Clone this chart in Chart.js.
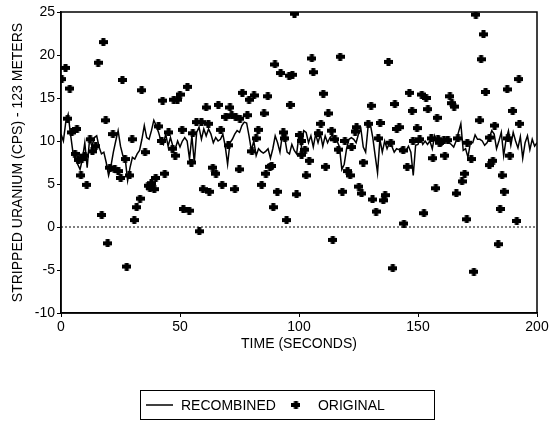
<!DOCTYPE html>
<html>
<head>
<meta charset="utf-8">
<script src="https://cdn.jsdelivr.net/npm/chart.js@4/dist/chart.umd.min.js"></script>
<style>
html,body{margin:0;padding:0;background:#fff;}
canvas{display:block;}
</style>
</head>
<body>
<canvas id="c" width="551" height="421"></canvas>
<script>
// RECOMBINED series: one value per second, t = 0 .. 200
const recombined = [
10.8,10.0,12.2,13.1,10.8,8.7,7.9,7.3,6.7,7.9,
9.8,6.9,10.2,9.4,10.4,10.6,9.3,8.5,8.7,7.5,
6.0,7.1,8.7,10.0,11.2,9.4,8.3,7.9,5.4,6.9,
8.1,7.9,8.5,8.9,10.2,11.8,10.4,10.2,11.2,12.4,
11.8,11.0,10.0,9.6,10.8,9.4,10.4,9.4,9.1,10.0,
9.3,10.0,10.4,10.0,7.9,10.6,7.5,11.0,11.6,10.2,
11.4,10.6,11.4,10.8,9.8,10.4,10.0,10.2,10.8,9.4,
7.3,9.8,10.2,10.8,11.2,11.0,11.8,12.2,12.1,10.6,
8.9,10.0,8.3,9.1,8.8,8.6,8.8,9.1,8.0,9.1,
10.6,9.8,8.7,10.7,10.4,8.7,8.5,9.6,8.9,8.5,
10.7,9.4,11.2,11.0,9.8,10.6,9.3,10.8,9.8,10.8,
9.4,10.6,9.8,10.4,10.7,10.0,10.0,9.3,6.7,7.3,
9.1,10.2,10.4,10.2,9.8,10.8,11.4,9.3,8.7,11.6,
11.9,10.4,8.3,6.3,10.2,8.7,10.0,9.1,9.8,9.4,
8.7,9.1,9.0,9.2,8.9,8.9,9.4,8.7,6.0,9.5,
9.6,10.4,9.6,10.0,9.6,10.0,9.1,10.6,9.8,10.4,
9.5,9.8,10.4,9.8,9.6,9.3,10.0,11.0,12.0,8.9,
9.1,8.1,9.8,9.8,10.7,10.2,10.2,10.0,9.5,9.8,
10.4,11.2,10.8,9.1,10.0,11.0,8.3,10.2,11.2,9.5,
11.0,10.0,9.2,10.5,8.0,9.8,10.6,9.0,10.2,9.4,
9.8
];

// ORIGINAL series: time (s) and value
const originalTime = [
0.3,1.9,2.8,3.7,4.5,5.9,6.7,7.3,8.4,8.7,
10.0,10.8,12.2,13.2,14.6,15.6,17.1,17.8,18.8,19.6,
20.5,21.8,22.6,24.1,25.1,25.8,26.9,27.6,28.8,29.9,
30.8,31.8,33.2,33.9,35.3,36.6,37.4,38.0,39.2,39.8,
41.0,42.3,42.7,43.6,45.2,46.9,47.4,48.0,48.9,50.0,
50.9,51.4,53.1,53.9,54.8,55.4,56.9,58.1,59.0,59.7,
61.0,61.9,62.3,63.8,65.1,66.1,67.1,67.7,69.2,70.3,
71.0,71.7,73.1,73.4,74.9,75.2,76.2,78.3,79.0,80.2,
81.1,82.0,82.9,84.3,85.3,86.1,86.9,87.8,88.5,89.2,
89.9,90.9,92.3,93.4,94.1,94.8,95.9,96.3,97.2,98.1,
99.0,100.4,101.0,101.1,102.5,103.0,104.3,105.4,106.0,108.1,
109.2,110.2,111.2,112.3,113.7,114.2,115.1,116.5,117.3,118.2,
119.3,120.4,121.5,122.1,123.6,124.2,125.2,126.3,127.0,129.1,
130.3,130.9,132.4,133.3,134.1,135.4,136.2,137.6,138.6,139.4,
140.3,141.1,142.1,143.8,144.1,145.5,146.4,147.5,147.9,149.6,
150.7,151.6,152.5,153.4,154.2,155.6,156.3,157.5,158.0,158.4,
159.1,160.9,161.3,162.6,163.4,164.2,165.2,166.1,166.8,168.5,
169.6,170.5,170.7,172.4,173.5,174.3,175.9,176.5,177.5,178.4,
180.1,180.0,181.5,182.2,183.7,184.5,185.3,186.2,187.5,187.8,
188.6,189.8,191.5,192.4,192.6
];
const originalValue = [
17.2,18.5,12.6,16.1,11.0,8.5,11.4,7.8,6.0,7.9,
8.3,4.9,10.2,8.8,9.4,19.1,1.4,21.5,12.4,-1.9,
6.9,10.8,6.7,6.5,5.7,17.1,7.9,-4.6,6.0,10.2,
0.8,2.3,3.3,15.9,8.7,4.8,4.5,5.1,4.4,5.7,
11.7,10.0,14.7,6.2,11.0,9.1,14.8,8.3,14.8,15.4,
11.3,2.1,16.3,1.9,7.5,10.9,12.2,-0.5,12.2,4.4,
13.9,12.0,4.1,6.9,6.2,14.2,11.3,4.9,12.8,9.5,
13.9,13.0,4.4,12.8,6.7,12.6,15.6,13.0,14.8,8.8,
15.3,10.3,11.3,4.9,13.2,6.2,15.2,7.0,7.1,2.3,
18.9,4.1,17.9,11.0,10.3,0.8,17.6,14.2,17.7,24.8,
3.8,10.7,10.0,8.4,9.0,6.0,7.7,19.6,18.0,10.9,
12.0,15.5,7.0,13.2,11.2,-1.5,10.2,9.0,19.8,4.1,
10.0,6.5,6.0,9.3,11.1,11.6,4.7,3.9,7.5,12.0,
14.1,3.2,1.8,10.3,12.1,3.1,3.7,19.2,9.8,-4.8,
14.3,11.4,11.6,8.9,0.4,7.0,15.6,13.5,10.0,11.5,
10.2,15.4,1.6,15.0,13.7,10.3,8.0,4.5,12.7,10.2,
9.8,10.1,8.3,10.1,15.2,14.4,14.0,3.9,10.3,5.3,
6.2,0.9,9.8,7.9,-5.2,24.7,12.4,19.5,22.4,15.7,
10.4,7.2,7.7,11.8,-2.0,2.1,6.0,4.1,16.0,10.3,
8.3,13.5,0.7,17.2,12.0
];

const xTicks = [0, 50, 100, 150, 200];
const yTicks = [-10, -5, 0, 5, 10, 15, 20, 25];

const FONT = "'Liberation Sans', Arial, Helvetica, sans-serif";

// plus-shaped marker
function makeMarker() {
  const m = document.createElement('canvas');
  m.width = 9; m.height = 8;
  const g = m.getContext('2d');
  g.fillStyle = '#000';
  g.fillRect(0, 2, 9, 4);
  g.fillRect(2.5, 0, 4, 8);
  g.beginPath(); g.arc(4.5, 4, 2.8, 0, Math.PI * 2); g.fill();
  return m;
}
const marker = makeMarker();

const frame = {
  id: 'frame',
  afterDatasetsDraw(chart) {
    const {ctx, chartArea: a} = chart;
    ctx.save();
    ctx.strokeStyle = '#000';
    ctx.lineWidth = 1.5;
    ctx.strokeRect(a.left, a.top, a.right - a.left, a.bottom - a.top);
    ctx.restore();
  }
};

const legendBox = {
  id: 'legendBox',
  afterDraw(chart) {
    const ctx = chart.ctx;
    const ds = chart.data.datasets;
    ctx.save();
    ctx.font = '14px ' + FONT;
    ctx.fillStyle = '#000';
    ctx.strokeStyle = '#000';
    const cy = 405;
    const lineLen = 27, gap = 8, itemGap = 14, markW = 12;
    const t1 = ds[1].label, t2 = ds[0].label;
    const w1 = ctx.measureText(t1).width;
    const x0 = 140;
    ctx.lineWidth = 1;
    ctx.strokeRect(x0 + 0.5, 390.5, 294, 29);
    let x = x0 + 6;
    ctx.lineWidth = 1.5;
    ctx.beginPath(); ctx.moveTo(x, cy); ctx.lineTo(x + lineLen, cy); ctx.stroke();
    x += lineLen + gap;
    ctx.textBaseline = 'middle';
    ctx.fillText(t1, x, cy + 1);
    x += w1 + itemGap;
    ctx.drawImage(marker, x + markW / 2 - 4.5, cy - 4);
    x += markW + gap + 8;
    ctx.fillText(t2, x, cy + 1);
    ctx.restore();
  }
};

const ctx = document.getElementById('c').getContext('2d');
new Chart(ctx, {
  type: 'scatter',
  data: {
    datasets: [
      {
        label: 'ORIGINAL',
        data: originalTime.map((t, i) => ({x: t, y: originalValue[i]})),
        pointStyle: marker,
        pointRadius: 4.5,
        showLine: false,
        order: 2
      },
      {
        label: 'RECOMBINED',
        type: 'line',
        data: recombined.map((v, i) => ({x: i, y: v})),
        borderColor: '#000',
        borderWidth: 1.5,
        pointRadius: 0,
        tension: 0,
        fill: false,
        order: 1
      },
      {
        label: 'zero',
        type: 'line',
        data: [{x: xTicks[0], y: 0}, {x: xTicks[xTicks.length - 1], y: 0}],
        borderColor: '#000',
        borderWidth: 1,
        borderDash: [2, 2],
        pointRadius: 0,
        order: 3
      }
    ]
  },
  options: {
    responsive: false,
    animation: false,
    layout: {padding: {left: 0, right: 14, top: 12, bottom: 68}},
    plugins: {legend: {display: false}, tooltip: {enabled: false}},
    scales: {
      x: {
        type: 'linear',
        min: xTicks[0], max: xTicks[xTicks.length - 1],
        afterBuildTicks: s => { s.ticks = xTicks.map(v => ({value: v})); },
        ticks: {color: '#000', font: {family: FONT, size: 14}, padding: 2, maxRotation: 0},
        grid: {display: true, drawOnChartArea: false, drawTicks: true, tickLength: 4, color: '#000', lineWidth: 1},
        border: {display: true, color: '#000', width: 1.5},
        title: {display: true, text: 'TIME (SECONDS)', color: '#000', font: {family: FONT, size: 14}, padding: {top: 2, bottom: 0}},
        afterFit: s => { s.height = 40; }
      },
      y: {
        type: 'linear',
        min: yTicks[0], max: yTicks[yTicks.length - 1],
        afterBuildTicks: s => { s.ticks = yTicks.map(v => ({value: v})); },
        ticks: {color: '#000', font: {family: FONT, size: 14}, padding: 2},
        grid: {display: true, drawOnChartArea: false, drawTicks: true, tickLength: 4, color: '#000', lineWidth: 1},
        border: {display: true, color: '#000', width: 1.5},
        title: {display: true, text: 'STRIPPED URANIUM (CPS) - 123 METERS', color: '#000', font: {family: FONT, size: 14}, padding: {top: 10, bottom: 0}},
        afterFit: s => { s.width = 61; }
      }
    }
  },
  plugins: [frame, legendBox]
});
</script>
</body>
</html>
